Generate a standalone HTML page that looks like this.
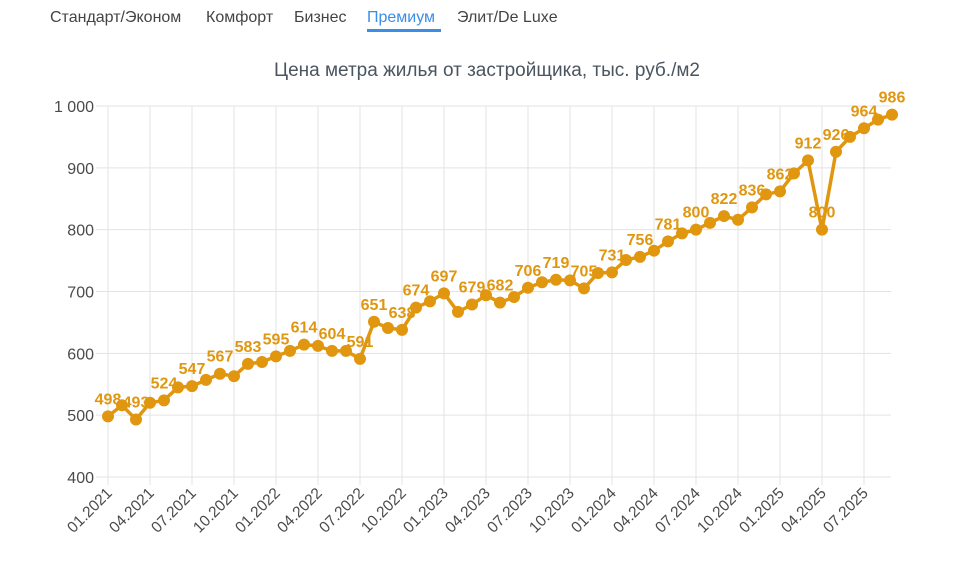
<!DOCTYPE html>
<html><head><meta charset="utf-8"><style>
body{margin:0;background:#fff;font-family:"Liberation Sans",sans-serif;}
.tab{position:absolute;white-space:nowrap;}
</style></head><body>
<div style="position:relative;width:974px;height:572px;overflow:hidden">
<div class="tab" style="left:50px;top:9px;font-size:16px;color:#444">Стандарт/Эконом</div>
<div class="tab" style="left:206px;top:9px;font-size:16px;color:#444">Комфорт</div>
<div class="tab" style="left:294px;top:9px;font-size:16px;color:#444">Бизнес</div>
<div class="tab" style="left:367px;top:9px;font-size:16px;color:#3a8ee6">Премиум</div>
<div style="position:absolute;left:367px;top:29px;width:74px;height:3px;background:#3a8ee6"></div>
<div class="tab" style="left:457px;top:9px;font-size:16px;color:#444">Элит/De Luxe</div>
<svg id="chart" width="974" height="572" style="position:absolute;left:0;top:0"></svg>
</div>
<script>
const values=[498,516,493,520,524,545,547,557,567,563,583,586,595,604,614,612,604,604,591,651,641,638,674,684,697,667,679,694,682,691,706,715,719,718,705,730,731,751,756,766,781,794,800,811,822,816,836,857,862,891,912,800,926,950,964,978,986];
const showLabel=[1,0,1,0,1,0,1,0,1,0,1,0,1,0,1,0,1,0,1,1,0,1,1,0,1,0,1,0,1,0,1,0,1,0,1,0,1,0,1,0,1,0,1,0,1,0,1,0,1,0,1,1,1,0,1,0,1];
const yTicks=[400,500,600,700,800,900,1000];
const yTickLabels=["400","500","600","700","800","900","1 000"];
const xTickLabels=["01.2021","04.2021","07.2021","10.2021","01.2022","04.2022","07.2022","10.2022","01.2023","04.2023","07.2023","10.2023","01.2024","04.2024","07.2024","10.2024","01.2025","04.2025","07.2025"];
const NS="http://www.w3.org/2000/svg";
const svg=document.getElementById('chart');
const X0=108,DX=14.0,Y0=477,Y1=106;
const xs=i=>X0+i*DX;
const ys=v=>Y0-(v-400)/600*(Y0-Y1);
function mk(t,a){const e=document.createElementNS(NS,t);for(const k in a)e.setAttribute(k,a[k]);svg.appendChild(e);return e;}
let t=mk('text',{x:487,y:76,'text-anchor':'middle','font-size':19,fill:'#4a5560'});


t.textContent='Цена метра жилья от застройщика, тыс. руб./м2';
yTicks.forEach((v,k)=>{
 const l=mk('line',{x1:96,x2:891,y1:ys(v),y2:ys(v),stroke:'#e3e3e3','stroke-width':1});
 
 
 const tx=mk('text',{x:94,y:ys(v)+6,'text-anchor':'end','font-size':16,fill:'#4a4a4a'});
 
 
 tx.textContent=yTickLabels[k];
});
xTickLabels.forEach((s,k)=>{
 const x=xs(k*3);
 const l=mk('line',{x1:x,x2:x,y1:Y1,y2:Y0+8,stroke:'#e3e3e3','stroke-width':1});
 
 
 const tx=mk('text',{x:x+5,y:Y0+17,'text-anchor':'end','font-size':15.5,fill:'#4a4a4a',transform:`rotate(-45 ${x+5} ${Y0+17})`});
 
 
 tx.textContent=s;
});
const C='#e0960f';
const p=mk('polyline',{points:values.map((v,i)=>xs(i)+','+ys(v)).join(' '),fill:'none',stroke:C,'stroke-width':3.5,'stroke-linejoin':'round'});


values.forEach((v,i)=>{
 const c=mk('circle',{cx:xs(i),cy:ys(v),r:6,fill:C});
 
 
});
values.forEach((v,i)=>{
 if(!showLabel[i])return;
 const tx=mk('text',{x:xs(i),y:ys(v)-12,'text-anchor':'middle','font-size':16,'font-weight':'bold',fill:C});
 
 
 tx.textContent=v;
});
</script>
</body></html>
